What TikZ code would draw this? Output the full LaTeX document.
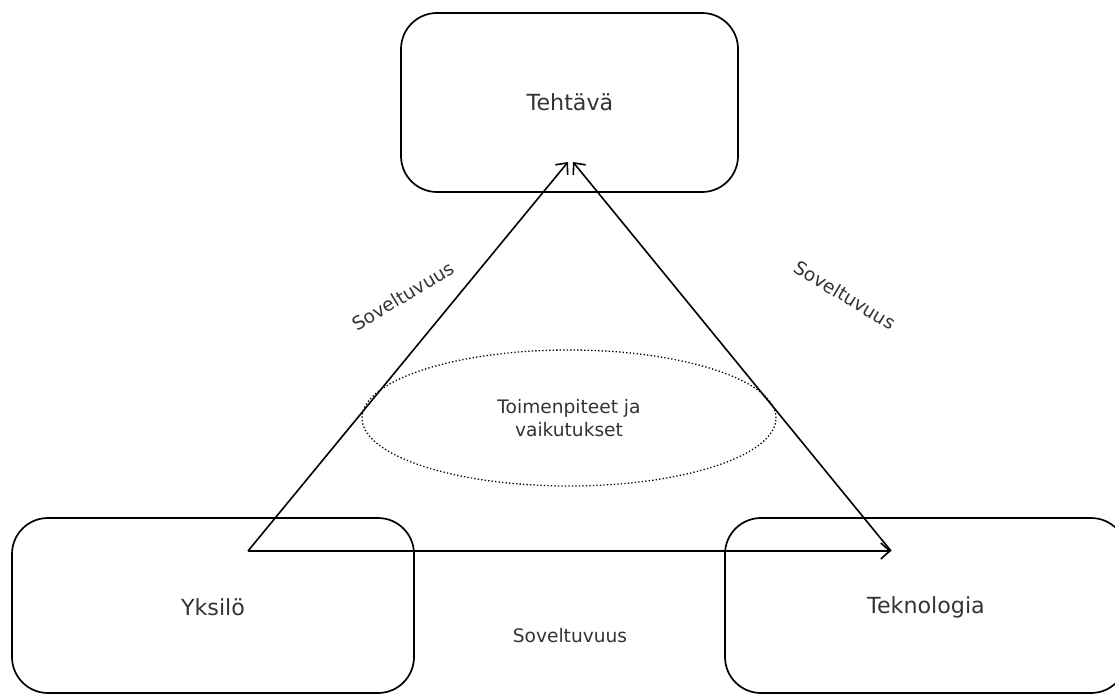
\documentclass[tikz,border=0pt]{standalone}
\usepackage{fontspec}
\setmainfont{DejaVu Sans}
\usetikzlibrary{arrows.meta,shapes.geometric}
\definecolor{txt}{HTML}{333333}
\begin{document}
\begin{tikzpicture}[x=1pt,y=-1pt,
  box/.style={draw=black,line width=1.7pt,rounded corners=36pt,inner sep=0pt},
  big/.style={text=txt,font=\fontsize{22.2}{26}\selectfont},
  small/.style={text=txt,font=\fontsize{18.6}{22.5}\selectfont},
  link/.style={line width=1.6pt,-{Straight Barb[length=9pt,width=16pt,line width=1.6pt]}}]
\useasboundingbox (0,0) rectangle (1115,695);
\node[box,minimum width=337pt,minimum height=179pt] (teh) at (569.5,102.5) {};
\node[big] (tehT) at (570,102) {Tehtävä};
\node[box,minimum width=402pt,minimum height=175pt] (yks) at (213,605.5) {};
\node[big] (yksT) at (213,607) {Yksilö};
\node[box,minimum width=402pt,minimum height=175pt] (tek) at (926,605.5) {};
\node[big] (tekT) at (926,607) {Teknologia};
\node[draw=black,dash pattern=on 1.3pt off 2.2pt,line width=1.3pt,ellipse,minimum width=414pt,minimum height=136pt,small,align=center] (ell) at (569,418) {Toimenpiteet ja\\vaikutukset};
\coordinate (pY) at (248,551);
\coordinate (pK) at (891,551);
\coordinate (pT1) at (568,162);
\coordinate (pT2) at (573,162);
\draw[link] (pY) -- (pT1);
\draw[link] (pK) -- (pT2);
\draw[link] (pY) -- (pK);
\node[small,rotate=31] (l1) at (403,296) {Soveltuvuus};
\node[small,rotate=-31] (l2) at (845,295) {Soveltuvuus};
\node[small] (l3) at (570,636) {Soveltuvuus};
\end{tikzpicture}
\end{document}
